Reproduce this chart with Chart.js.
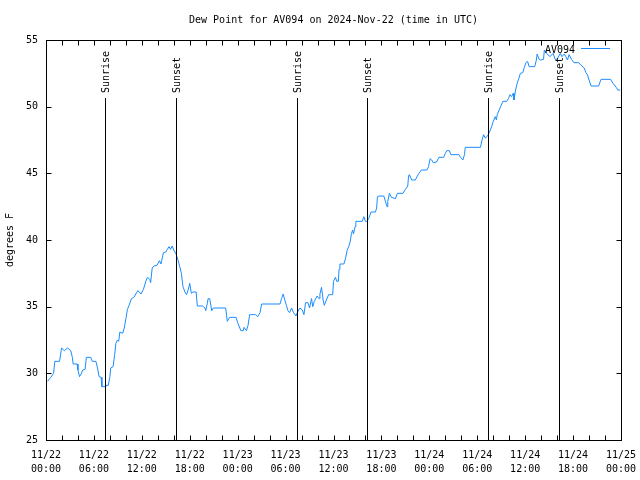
<!DOCTYPE html>
<html>
<head>
<meta charset="utf-8">
<title>Dew Point AV094</title>
<script src="https://cdn.jsdelivr.net/npm/chart.js@4/dist/chart.umd.min.js"></script>
<style>
  body { margin: 0; background: #fff; }
  #dewChart { display: block; }
</style>
</head>
<body>
<canvas id="dewChart" width="640" height="480"></canvas>
<script>
// hours since 2024-11-22 00:00 UTC
const hours = [
  0.2, 0.6, 0.95, 1.1, 1.7, 1.95, 2.3, 2.7, 3.1, 3.3, 3.4, 3.9, 4.0, 4.2, 4.4, 4.6, 4.9, 5.05, 5.6, 5.8,
  6.25, 6.45, 6.65, 6.9, 7.0, 7.4, 7.5, 7.8, 8.0, 8.1, 8.4, 8.6, 8.75, 8.95, 9.1, 9.25, 9.6, 9.8, 10.0, 10.2,
  10.4, 10.7, 11.0, 11.5, 11.9, 12.2, 12.5, 12.7, 13.0, 13.1, 13.3, 13.5, 13.9, 14.2, 14.4, 14.7, 15.0, 15.2, 15.4, 15.6,
  15.8, 16.0, 16.25, 16.5, 16.75, 16.95, 17.15, 17.4, 17.6, 17.8, 18.0, 18.2, 18.4, 18.8, 18.95, 19.6, 19.9, 20.0, 20.2, 20.3,
  20.5, 20.75, 20.95, 22.5, 22.7, 23.0, 23.8, 24.0, 24.4, 24.7, 24.8, 25.1, 25.3, 25.5, 26.25, 26.5, 26.8, 27.0, 29.3, 29.5,
  29.7, 29.9, 30.1, 30.3, 30.5, 30.75, 31.0, 31.3, 31.5, 31.8, 32.1, 32.3, 32.5, 32.8, 33.0, 33.25, 33.4, 33.6, 33.95, 34.2,
  34.3, 34.5, 34.7, 34.85, 35.1, 35.4, 35.9, 36.0, 36.25, 36.4, 36.6, 36.7, 36.8, 37.3, 37.5, 37.7, 37.9, 38.1, 38.25, 38.4,
  38.5, 38.7, 38.8, 39.6, 39.8, 40.0, 40.2, 40.4, 40.7, 41.25, 41.4, 41.5, 41.7, 42.3, 42.5, 42.7, 42.8, 43.0, 43.25, 43.75,
  44.0, 44.7, 45.0, 45.3, 45.4, 45.5, 45.8, 46.25, 46.5, 46.7, 47.0, 47.7, 47.9, 48.1, 48.3, 48.5, 48.9, 49.2, 49.8, 50.0,
  50.2, 50.5, 50.7, 51.7, 51.9, 52.2, 52.4, 52.5, 54.4, 54.6, 54.8, 55.0, 55.3, 55.5, 55.8, 56.0, 56.25, 56.4, 56.5, 56.75,
  57.0, 57.2, 57.7, 57.9, 58.1, 58.3, 58.5, 58.6, 58.8, 59.0, 59.2, 59.4, 59.7, 59.9, 60.1, 60.3, 60.5, 61.2, 61.4, 61.5,
  61.75, 61.9, 62.3, 62.4, 62.7, 63.1, 63.5, 63.75, 64.0, 64.4, 64.6, 64.9, 65.1, 65.3, 65.5, 65.8, 66.1, 66.7, 67.0, 67.4,
  67.6, 67.8, 68.0, 68.25, 69.2, 69.5, 70.7, 71.0, 71.4, 71.6, 71.9
];
const dewF = [
  29.4, 29.7, 30.0, 30.9, 30.9, 31.9, 31.7, 31.9, 31.7, 31.2, 30.7, 30.7, 30.25, 29.75, 29.95, 30.25, 30.3, 31.2, 31.2, 30.9,
  30.9, 30.4, 29.75, 29.7, 29.0, 29.0, 29.1, 29.1, 29.75, 30.4, 30.5, 31.4, 32.25, 32.5, 32.4, 33.1, 33.0, 33.4, 34.1, 34.8,
  35.1, 35.6, 35.7, 36.2, 35.95, 36.3, 36.9, 37.2, 37.05, 36.8, 37.9, 38.05, 38.1, 38.45, 38.2, 39.05, 39.1, 39.3, 39.5, 39.3,
  39.55, 39.25, 39.0, 38.55, 38.0, 37.5, 36.5, 36.1, 35.9, 36.25, 36.75, 36.0, 36.1, 36.1, 35.05, 35.05, 34.9, 34.7, 35.25, 35.6,
  35.6, 34.7, 34.9, 34.9, 33.9, 34.2, 34.2, 33.8, 33.2, 33.2, 33.45, 33.2, 33.6, 34.4, 34.4, 34.25, 34.55, 35.2, 35.2, 35.6,
  35.95, 35.5, 35.1, 34.7, 34.55, 34.9, 34.55, 34.3, 34.6, 34.9, 34.75, 34.4, 35.3, 35.3, 34.9, 35.6, 35.0, 35.4, 35.8, 35.6,
  35.95, 36.45, 35.5, 35.1, 35.5, 35.9, 35.9, 36.9, 37.2, 36.9, 36.9, 37.8, 38.2, 38.2, 38.6, 39.2, 39.5, 39.9, 40.5, 40.75,
  40.45, 41.0, 41.4, 41.4, 41.75, 41.4, 41.4, 41.6, 42.1, 42.1, 42.4, 43.25, 43.3, 43.3, 42.9, 42.5, 42.9, 43.5, 43.2, 43.1,
  43.5, 43.5, 43.8, 44.05, 44.8, 44.9, 44.5, 44.5, 44.8, 45.0, 45.25, 45.25, 45.5, 46.1, 46.0, 45.8, 45.85, 46.2, 46.2, 46.5,
  46.7, 46.7, 46.4, 46.4, 46.2, 46.0, 46.4, 46.95, 46.95, 47.5, 47.9, 47.65, 47.8, 48.05, 48.5, 48.9, 49.25, 49.0, 49.4, 49.75,
  50.1, 50.4, 50.4, 50.6, 50.9, 50.75, 51.0, 50.5, 51.25, 51.75, 52.1, 52.5, 52.55, 52.95, 53.3, 53.4, 53.0, 53.0, 53.5, 53.95,
  53.55, 53.5, 53.55, 54.25, 54.0, 53.75, 54.0, 53.55, 53.55, 54.0, 53.75, 53.95, 53.75, 53.5, 53.9, 53.55, 53.3, 53.3, 53.1, 52.9,
  52.55, 52.4, 52.0, 51.55, 51.55, 52.05, 52.05, 51.75, 51.45, 51.25, 51.25
];

// sunrise / sunset markers (hours)
const eventHours = [7.4, 16.3, 31.4, 40.25, 55.4, 64.2];
const eventNames = ['Sunrise', 'Sunset', 'Sunrise', 'Sunset', 'Sunrise', 'Sunset'];

const tickDates = ['11/22', '11/22', '11/22', '11/22', '11/23', '11/23', '11/23', '11/23', '11/24', '11/24', '11/24', '11/24', '11/25'];
const tickTimes = ['00:00', '06:00', '12:00', '18:00', '00:00', '06:00', '12:00', '18:00', '00:00', '06:00', '12:00', '18:00', '00:00'];
const yTicks = [25, 30, 35, 40, 45, 50, 55];

const lineColor = '#1a8cff';
const FONT = 'DejaVu Sans Mono';

Chart.defaults.font.family = FONT;
Chart.defaults.font.size = 10;
Chart.defaults.color = '#000';

// frame, inward ticks, sunrise/sunset lines and the legend
const decorations = {
  id: 'decorations',
  afterDatasetsDraw(chart) {
    const ctx = chart.ctx;
    const a = chart.chartArea;
    const xs = chart.scales.x;
    const ys = chart.scales.y;
    ctx.save();
    ctx.strokeStyle = '#000';
    ctx.lineWidth = 1;

    // sunrise / sunset
    ctx.beginPath();
    eventHours.forEach((h) => {
      const px = Math.round(xs.getPixelForValue(h)) + 0.5;
      ctx.moveTo(px, a.bottom);
      ctx.lineTo(px, a.top + 58);
    });
    ctx.stroke();
    ctx.fillStyle = '#000';
    ctx.font = '10px ' + FONT;
    ctx.textAlign = 'left';
    ctx.textBaseline = 'middle';
    eventHours.forEach((h, i) => {
      const px = Math.round(xs.getPixelForValue(h)) + 1;
      ctx.save();
      ctx.translate(px, a.top + 53);
      ctx.rotate(-Math.PI / 2);
      ctx.fillText(eventNames[i], 0, 0);
      ctx.restore();
    });

    // frame
    const l = Math.round(a.left) + 0.5, r = Math.round(a.right) + 0.5;
    const t = Math.round(a.top) + 0.5, b = Math.round(a.bottom) + 0.5;
    ctx.strokeRect(l, t, r - l, b - t);

    // ticks pointing inward
    ctx.beginPath();
    for (let h = 0; h <= 72; h += 2) {
      const px = Math.round(xs.getPixelForValue(h)) + 0.5;
      ctx.moveTo(px, b); ctx.lineTo(px, b - 5);
      ctx.moveTo(px, t); ctx.lineTo(px, t + 5);
    }
    yTicks.forEach((v) => {
      const py = Math.round(ys.getPixelForValue(v)) + 0.5;
      ctx.moveTo(l, py); ctx.lineTo(l + 5, py);
      ctx.moveTo(r, py); ctx.lineTo(r - 5, py);
    });
    ctx.stroke();

    // legend
    const ds = chart.data.datasets[0];
    ctx.textAlign = 'right';
    ctx.fillText(ds.label, a.right - 46, a.top + 10);
    ctx.strokeStyle = ds.borderColor;
    ctx.beginPath();
    ctx.moveTo(a.right - 40, a.top + 8.5);
    ctx.lineTo(a.right - 11, a.top + 8.5);
    ctx.stroke();
    ctx.restore();
  }
};

const chart = new Chart(document.getElementById('dewChart'), {
  type: 'line',
  data: {
    datasets: [{
      label: 'AV094',
      data: hours.map((h, i) => ({ x: h, y: dewF[i] })),
      borderColor: lineColor,
      borderWidth: 1,
      pointRadius: 0,
      tension: 0,
      fill: false
    }]
  },
  options: {
    responsive: false,
    animation: false,
    devicePixelRatio: 1,
    layout: { padding: { left: 0, right: 19, top: 0, bottom: 0 } },
    plugins: {
      legend: { display: false },
      tooltip: { enabled: false },
      title: {
        display: true,
        fullSize: false,
        text: 'Dew Point for AV094 on 2024-Nov-22 (time in UTC)',
        font: { size: 10, weight: 'normal', lineHeight: 1.2 },
        color: '#000',
        padding: { top: 14, bottom: 14 }
      }
    },
    scales: {
      x: {
        type: 'linear',
        min: 0,
        max: 72,
        grid: { display: false, drawTicks: false },
        border: { display: false },
        afterFit: (s) => { s.height = 40; s.paddingLeft = 0; s.paddingRight = 0; },
        ticks: {
          stepSize: 6,
          autoSkip: false,
          maxRotation: 0,
          padding: 8,
          font: { size: 10, lineHeight: 1.4 },
          callback: (v) => {
            const i = v / 6;
            return Number.isInteger(i) ? [tickDates[i], tickTimes[i]] : '';
          }
        }
      },
      y: {
        min: 25,
        max: 55,
        grid: { display: false, drawTicks: false },
        border: { display: false },
        afterFit: (s) => { s.width = 46; s.paddingTop = 0; s.paddingBottom = 0; },
        ticks: { stepSize: 5, padding: 8, font: { size: 10 } },
        title: {
          display: true,
          text: 'degrees F',
          font: { size: 10, lineHeight: 1.2 },
          padding: { top: 4, bottom: 0 }
        }
      }
    }
  },
  plugins: [decorations]
});
</script>
</body>
</html>
